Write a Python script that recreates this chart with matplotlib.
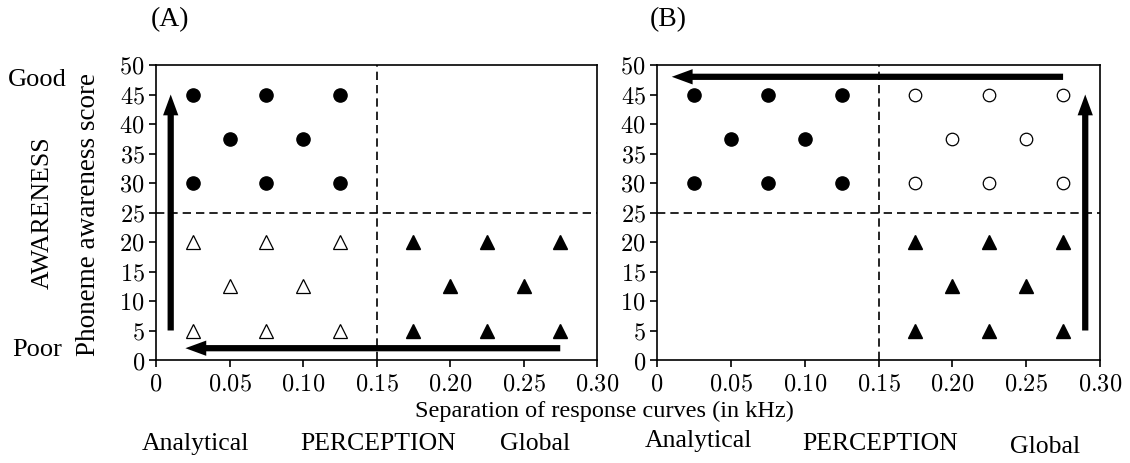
import matplotlib
matplotlib.use("Agg")
import matplotlib.pyplot as plt

plt.rcParams['font.family'] = ['Liberation Serif', 'DejaVu Serif']
plt.rcParams['mathtext.fontset'] = 'cm'

# data
circ_x = [0.025, 0.075, 0.125, 0.05, 0.10, 0.025, 0.075, 0.125]
circ_y = [45, 45, 45, 37.5, 37.5, 30, 30, 30]
tri_l_x = [0.025, 0.075, 0.125, 0.05, 0.10, 0.025, 0.075, 0.125]
tri_r_x = [0.175, 0.225, 0.275, 0.20, 0.25, 0.175, 0.225, 0.275]
tri_y = [20, 20, 20, 12.5, 12.5, 5, 5, 5]
open_circ_x = [0.175, 0.225, 0.275, 0.20, 0.25, 0.175, 0.225, 0.275]

# arrows: (x_tail, y_tail, x_head, y_head)
arrows_a = [(0.01, 5, 0.01, 45), (0.275, 2, 0.02, 2)]
arrows_b = [(0.275, 48, 0.01, 48), (0.29, 5, 0.29, 45)]

xticks = [0, 0.05, 0.10, 0.15, 0.20, 0.25, 0.30]
xticklabels = ['0', '0.05', '0.10', '0.15', '0.20', '0.25', '0.30']
yticks = [0, 5, 10, 15, 20, 25, 30, 35, 40, 45, 50]
x_split = 0.15
y_split = 25

fig = plt.figure(figsize=(11.3, 4.64), dpi=100)
ax1 = fig.add_axes([156/1130, 1-361/464, 441/1130, 295/464])
ax2 = fig.add_axes([657/1130, 1-361/464, 443/1130, 295/464])


def style(ax):
    ax.set_xlim(0, 0.30)
    ax.set_ylim(0, 50)
    ax.set_xticks(xticks)
    ax.set_xticklabels(['$%s$' % t for t in xticklabels])
    ax.set_yticks(yticks)
    ax.set_yticklabels(['$%d$' % t for t in yticks])
    ax.tick_params(direction='out', length=5, width=1.2, labelsize=17.5, pad=5,
                   top=False, right=False)
    ax.tick_params(axis='y', pad=3)
    for sp in ax.spines.values():
        sp.set_linewidth(1.2)
    ax.axvline(x_split, color='black', ls=(0, (5, 3)), lw=1.2)
    ax.axhline(y_split, color='black', ls=(0, (5, 3)), lw=1.2)


def arrows(ax, lst):
    for x0, y0, x1, y1 in lst:
        ax.annotate('', xy=(x1, y1), xytext=(x0, y0),
                    arrowprops=dict(width=4.5, headwidth=11, headlength=15,
                                    facecolor='black', edgecolor='none',
                                    shrink=0))


# panel A
style(ax1)
ax1.plot(circ_x, circ_y, 'o', color='black', ms=9.5, ls='none')
ax1.plot(tri_l_x, tri_y, '^', mfc='white', mec='black', mew=0.9, ms=10, ls='none')
ax1.plot(tri_r_x, tri_y, '^', color='black', ms=10, ls='none')
arrows(ax1, arrows_a)

# panel B
style(ax2)
ax2.plot(circ_x, circ_y, 'o', color='black', ms=9.5, ls='none')
ax2.plot(open_circ_x, circ_y, 'o', mfc='white', mec='black', mew=0.9, ms=9, ls='none')
ax2.plot(tri_r_x, tri_y, '^', color='black', ms=10, ls='none')
arrows(ax2, arrows_b)

fig.text(170/1130, 1-20/464, '(A)', fontsize=20, ha='center', va='center')
fig.text(668/1130, 1-20/464, '(B)', fontsize=20, ha='center', va='center')
fig.text(37/1130, 1-80/464, 'Good', fontsize=19, ha='center', va='center')
fig.text(37/1130, 1-350/464, 'Poor', fontsize=19, ha='center', va='center')
fig.text(43/1130, 1-213/464, 'AWARENESS', fontsize=18.5, ha='center', va='center',
         rotation=90)
fig.text(89/1130, 1-215/464, 'Phoneme awareness score', fontsize=19.5,
         ha='center', va='center', rotation=90)
fig.text(604/1130, 1-411/464, 'Separation of response curves (in kHz)',
         fontsize=17.5, ha='center', va='center')
for xa, xp, xg, yy, yg in [(195, 378, 535, 444, 444), (698, 880, 1045, 441, 447)]:
    fig.text(xa/1130, 1-yy/464, 'Analytical', fontsize=18.5, ha='center', va='center')
    fig.text(xp/1130, 1-444/464, 'PERCEPTION', fontsize=18.5, ha='center', va='center')
    fig.text(xg/1130, 1-yg/464, 'Global', fontsize=18.5, ha='center', va='center')

fig.savefig('out.png', dpi=100)
